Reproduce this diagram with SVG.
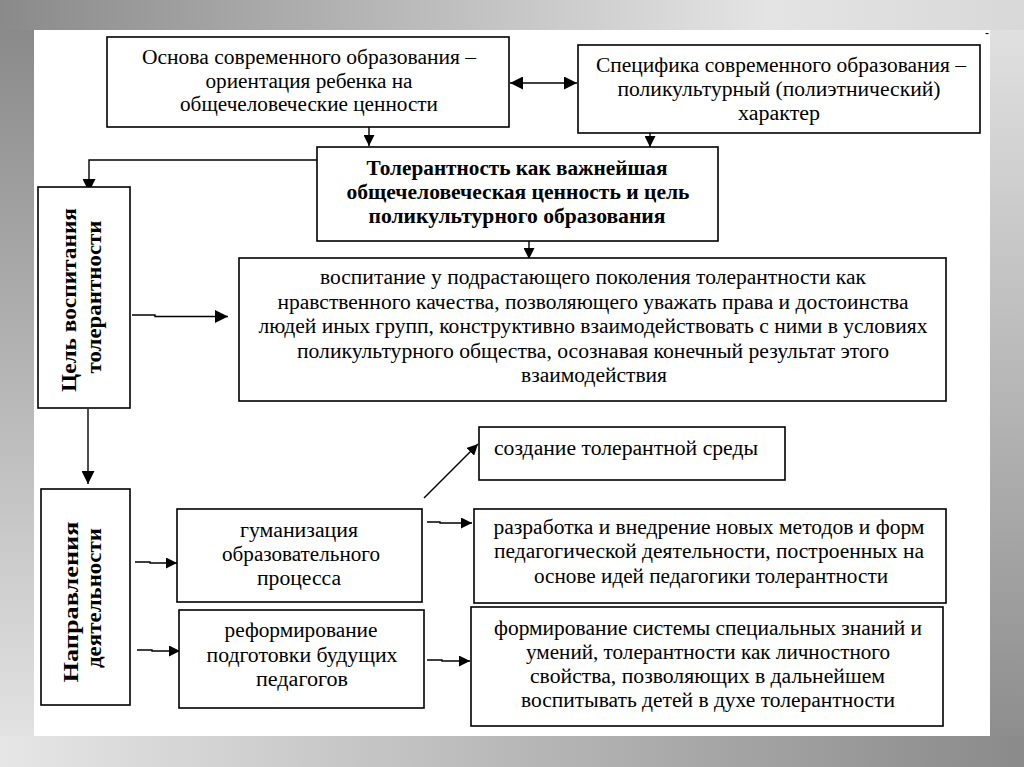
<svg xmlns="http://www.w3.org/2000/svg" width="1024" height="767" viewBox="0 0 1024 767">
<defs>
<linearGradient id="gTop" x1="0" y1="0" x2="1" y2="0"><stop offset="0" stop-color="#8a8a8a"/><stop offset="0.75" stop-color="#e4e4e4"/><stop offset="1" stop-color="#d8d8d8"/></linearGradient>
<linearGradient id="gLeft" x1="0" y1="0" x2="0" y2="1"><stop offset="0" stop-color="#8a8a8a"/><stop offset="1" stop-color="#e2e2e2"/></linearGradient>
<linearGradient id="gBot" x1="0" y1="0" x2="1" y2="0"><stop offset="0" stop-color="#e6e6e6"/><stop offset="1" stop-color="#8a8a8a"/></linearGradient>
<linearGradient id="gRight" x1="0" y1="0" x2="0" y2="1"><stop offset="0" stop-color="#e0e0e0"/><stop offset="1" stop-color="#8e8e8e"/></linearGradient>
<marker id="ah" viewBox="0 0 13 13" markerWidth="13" markerHeight="13" refX="13" refY="6.5" orient="auto-start-reverse" markerUnits="userSpaceOnUse"><path d="M0,0 L13,6.5 L0,13 z" fill="#000"/></marker>
<marker id="ahs" viewBox="0 0 11 11" markerWidth="11" markerHeight="11" refX="11" refY="5.5" orient="auto" markerUnits="userSpaceOnUse"><path d="M0,0 L11,5.5 L0,11 z" fill="#000"/></marker>
</defs>
<style>
.box{fill:#fff;stroke:#000;stroke-width:1.6}
.t{font-family:"Liberation Serif","Times New Roman",serif;font-size:20px;fill:#000;text-anchor:middle}
.b{font-weight:bold}
.v{font-family:"Liberation Serif","Times New Roman",serif;font-size:21px;font-weight:bold;fill:#000;text-anchor:middle}
.c{fill:none;stroke:#000;stroke-width:1.4}
</style>
<rect x="0" y="0" width="1024" height="30" fill="url(#gTop)"/>
<rect x="0" y="30" width="34" height="706" fill="url(#gLeft)"/>
<rect x="0" y="736" width="1024" height="31" fill="url(#gBot)"/>
<rect x="990" y="30" width="34" height="706" fill="url(#gRight)"/>
<rect x="34" y="30" width="956" height="706" fill="#fff"/>
<text x="987" y="37" font-family="Liberation Sans, sans-serif" font-size="12" text-anchor="middle">-</text>

<g id="connectors">
<line class="c" x1="510" y1="83" x2="577" y2="83" marker-start="url(#ah)" marker-end="url(#ah)"/>
<line class="c" x1="369" y1="127" x2="369" y2="146" marker-end="url(#ahs)"/>
<line class="c" x1="650" y1="133" x2="650" y2="147" marker-end="url(#ahs)"/>
<polyline class="c" points="317,160 89,160 89,192" marker-end="url(#ah)"/>
<line class="c" x1="529" y1="241" x2="529" y2="259" marker-end="url(#ahs)"/>
<polyline class="c" points="132,315 155,315 155,316.5 228,316.5" marker-end="url(#ah)"/>
<line class="c" x1="88" y1="409" x2="88" y2="484" marker-end="url(#ah)"/>
<polyline class="c" points="135,562 150,562 150,563 177,563" marker-end="url(#ahs)"/>
<polyline class="c" points="137,650 152,650 152,651 180,651" marker-end="url(#ahs)"/>
<polyline class="c" points="427,522 440,522 440,523 472,523" marker-end="url(#ahs)"/>
<line class="c" x1="424" y1="498" x2="478" y2="444" stroke-width="1.1" marker-end="url(#ahs)"/>
<polyline class="c" points="427,660 442,660 442,661 470,661" marker-end="url(#ahs)"/>
</g>

<g id="n1">
<rect class="box" x="107" y="37" width="402" height="90"/>
<text class="t" x="309" y="64" textLength="334" lengthAdjust="spacingAndGlyphs">Основа современного образования –</text>
<text class="t" x="309" y="88" textLength="207" lengthAdjust="spacingAndGlyphs">ориентация ребенка на</text>
<text class="t" x="309" y="111" textLength="258" lengthAdjust="spacingAndGlyphs">общечеловеческие ценности</text>
</g>
<g id="n2">
<rect class="box" x="578" y="45" width="402" height="88"/>
<text class="t" x="781" y="72" textLength="370" lengthAdjust="spacingAndGlyphs">Специфика современного образования –</text>
<text class="t" x="779" y="96" textLength="323" lengthAdjust="spacingAndGlyphs">поликультурный (полиэтнический)</text>
<text class="t" x="779" y="120" textLength="82" lengthAdjust="spacingAndGlyphs">характер</text>
</g>
<g id="n3">
<rect class="box" x="317" y="147" width="401" height="94"/>
<text class="t b" x="517" y="175" textLength="301" lengthAdjust="spacingAndGlyphs">Толерантность как важнейшая</text>
<text class="t b" x="518" y="199" textLength="343" lengthAdjust="spacingAndGlyphs">общечеловеческая ценность и цель</text>
<text class="t b" x="517" y="223" textLength="297" lengthAdjust="spacingAndGlyphs">поликультурного образования</text>
</g>
<g id="n4">
<rect class="box" x="239" y="258" width="707" height="143"/>
<text class="t" x="593" y="284" textLength="546" lengthAdjust="spacingAndGlyphs">воспитание у подрастающего поколения толерантности как</text>
<text class="t" x="593" y="308.5" textLength="631" lengthAdjust="spacingAndGlyphs">нравственного качества, позволяющего уважать права и достоинства</text>
<text class="t" x="593" y="333" textLength="669" lengthAdjust="spacingAndGlyphs">людей иных групп, конструктивно взаимодействовать с ними в условиях</text>
<text class="t" x="593" y="357.5" textLength="592" lengthAdjust="spacingAndGlyphs">поликультурного общества, осознавая конечный результат этого</text>
<text class="t" x="594" y="382" textLength="146" lengthAdjust="spacingAndGlyphs">взаимодействия</text>
</g>
<g id="n5">
<rect class="box" x="38" y="187" width="92" height="221"/>
<text class="v" transform="translate(76,300) rotate(-90)" textLength="184" lengthAdjust="spacingAndGlyphs">Цель воспитания</text>
<text class="v" transform="translate(101,297) rotate(-90)" textLength="153" lengthAdjust="spacingAndGlyphs">толерантности</text>
</g>
<g id="n6">
<rect class="box" x="41" y="489" width="89" height="216"/>
<text class="v" transform="translate(78,602) rotate(-90)" textLength="161" lengthAdjust="spacingAndGlyphs">Направления</text>
<text class="v" transform="translate(101,598) rotate(-90)" textLength="140" lengthAdjust="spacingAndGlyphs">деятельности</text>
</g>
<g id="n7">
<rect class="box" x="479" y="427" width="306" height="53"/>
<text class="t" x="626" y="455" textLength="264" lengthAdjust="spacingAndGlyphs">создание толерантной среды</text>
</g>
<g id="n8">
<rect class="box" x="177" y="509" width="245" height="93"/>
<text class="t" x="299" y="537" textLength="118" lengthAdjust="spacingAndGlyphs">гуманизация</text>
<text class="t" x="301" y="561" textLength="158" lengthAdjust="spacingAndGlyphs">образовательного</text>
<text class="t" x="299" y="585" textLength="84" lengthAdjust="spacingAndGlyphs">процесса</text>
</g>
<g id="n9">
<rect class="box" x="474" y="509" width="472" height="94"/>
<text class="t" x="709" y="534" textLength="431" lengthAdjust="spacingAndGlyphs">разработка и внедрение новых методов и форм</text>
<text class="t" x="709" y="558" textLength="430" lengthAdjust="spacingAndGlyphs">педагогической деятельности, построенных на</text>
<text class="t" x="711" y="583" textLength="354" lengthAdjust="spacingAndGlyphs">основе идей педагогики толерантности</text>
</g>
<g id="n10">
<rect class="box" x="179" y="610" width="245" height="98"/>
<text class="t" x="301" y="637" textLength="153" lengthAdjust="spacingAndGlyphs">реформирование</text>
<text class="t" x="302" y="662" textLength="191" lengthAdjust="spacingAndGlyphs">подготовки будущих</text>
<text class="t" x="302" y="686" textLength="92" lengthAdjust="spacingAndGlyphs">педагогов</text>
</g>
<g id="n11">
<rect class="box" x="471" y="607" width="472" height="119"/>
<text class="t" x="708" y="635" textLength="428" lengthAdjust="spacingAndGlyphs">формирование системы специальных знаний и</text>
<text class="t" x="708" y="659" textLength="364" lengthAdjust="spacingAndGlyphs">умений, толерантности как личностного</text>
<text class="t" x="707.5" y="683" textLength="355" lengthAdjust="spacingAndGlyphs">свойства, позволяющих в дальнейшем</text>
<text class="t" x="708" y="707" textLength="374" lengthAdjust="spacingAndGlyphs">воспитывать детей в духе толерантности</text>
</g>
</svg>
